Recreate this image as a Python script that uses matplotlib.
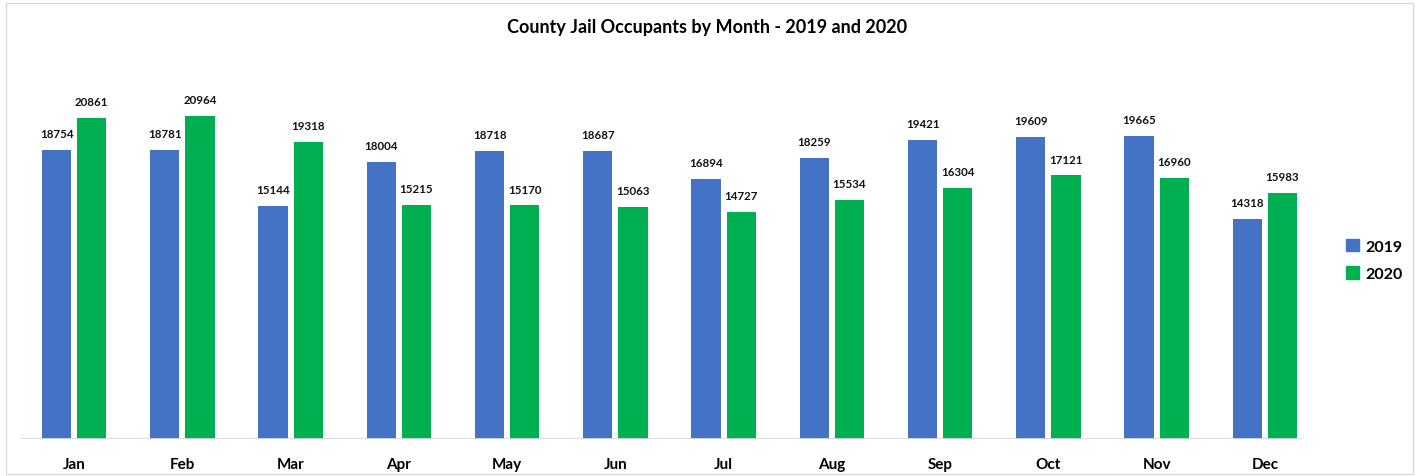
import matplotlib.pyplot as plt
import numpy as np
from matplotlib.patches import Rectangle, Patch

months = ["Jan", "Feb", "Mar", "Apr", "May", "Jun", "Jul", "Aug", "Sep", "Oct", "Nov", "Dec"]
occ_2019 = [18754, 18781, 15144, 18004, 18718, 18687, 16894, 18259, 19421, 19609, 19665, 14318]
occ_2020 = [20861, 20964, 19318, 15215, 15170, 15063, 14727, 15534, 16304, 17121, 16960, 15983]

blue = "#4472C4"
green = "#00B050"
plt.rcParams['font.family'] = ['Lato', 'DejaVu Sans']

W, H = 1419, 477
fig = plt.figure(figsize=(W / 100, H / 100), dpi=100)
ax = fig.add_axes([20 / W, 37 / H, (1319 - 20) / W, (440 - 55) / H])

x = np.arange(len(months))
w = 0.27
b1 = ax.bar(x - 0.162, occ_2019, w, color=blue, zorder=2)
b2 = ax.bar(x + 0.162, occ_2020, w, color=green, zorder=2)

for bars in (b1, b2):
    for r in bars:
        ax.text(r.get_x() + r.get_width() / 2, r.get_height() + 700, f"{int(r.get_height())}",
                ha="center", va="bottom", fontsize=8.3, fontweight="bold", color="#111111")

ax.axhline(0, xmax=(1300 - 20) / (1319 - 20), color="#d9d9d9", lw=2, zorder=3)
ax.set_xlim(-0.5, 11.5)
ax.set_ylim(0, 25000)
ax.set_xticks(x)
ax.set_xticklabels(months, fontsize=11, fontweight="bold")
ax.tick_params(axis="x", length=0, pad=13)
ax.set_yticks([])
for s in ax.spines.values():
    s.set_visible(False)

fig.text(707 / W, 1 - 28 / H, "County Jail Occupants by Month - 2019 and 2020",
         ha="center", va="center", fontsize=13, fontweight="bold")

handles = [Patch(color=blue, label="2019"), Patch(color=green, label="2020")]
fig.legend(handles=handles, loc="center left", bbox_to_anchor=(1332 / W, 1 - 261 / H),
           frameon=False, prop={"size": 11.5, "weight": "bold"}, handlelength=0.8,
           handleheight=0.8, handletextpad=0.4, labelspacing=0.8)

fig.patches.append(Rectangle((6 / W, 2 / H), (W - 12) / W, (H - 6) / H, transform=fig.transFigure,
                             fill=False, edgecolor="#d9d9d9", lw=1))

fig.savefig("out.png", dpi=100)
